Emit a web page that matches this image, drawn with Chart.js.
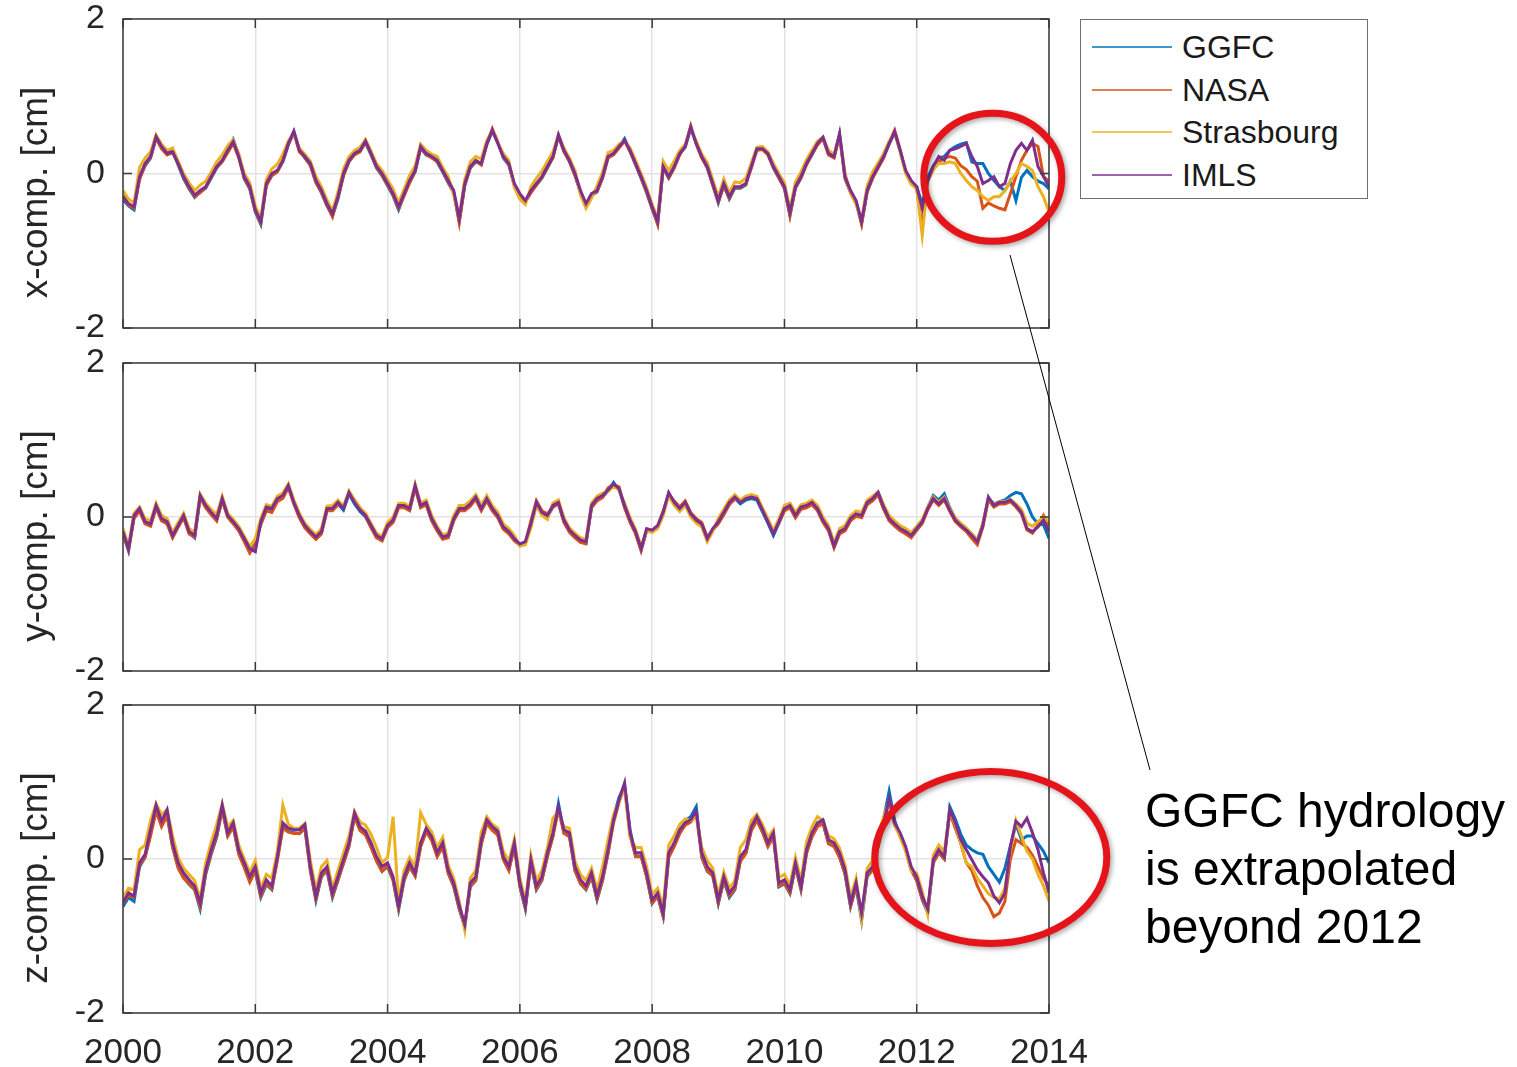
<!DOCTYPE html>
<html>
<head>
<meta charset="utf-8">
<title>Loading displacement components</title>
<script src="https://cdn.jsdelivr.net/npm/chart.js@4.4.1/dist/chart.umd.min.js"></script>
<style>
  html, body { margin: 0; padding: 0; background: #fff; }
  body { width: 1517px; height: 1067px; position: relative; overflow: hidden;
         font-family: "Liberation Sans", Arial, sans-serif; }
  canvas.panel { position: absolute; left: 0; }
  #overlay { position: absolute; left: 0; top: 0; pointer-events: none; }
  #legend { position: absolute; left: 1080px; top: 19px; width: 288px; height: 180px;
            box-sizing: border-box; border: 1.5px solid #707070; background: #fff; }
  .lg-row { position: absolute; left: 0; width: 100%; height: 42px; }
  .lg-line { position: absolute; left: 11px; width: 80px; height: 2px; top: 20px; }
  .lg-text { position: absolute; left: 101px; top: 0; line-height: 42px; font-size: 32px; color: #1a1a1a; white-space: nowrap; }
  #note { position: absolute; left: 1145px; top: 782px; font-size: 48px; line-height: 58px; color: #000; white-space: nowrap; }
</style>
</head>
<body>
<canvas id="p0" class="panel"></canvas>
<canvas id="p1" class="panel"></canvas>
<canvas id="p2" class="panel"></canvas>
<canvas id="overlay" width="1517" height="1067"></canvas>
<div id="legend"></div>
<div id="note">GGFC hydrology<br>is extrapolated<br>beyond 2012</div>
<script>
// ---- data: monthly samples, Jan 2000 .. Jan 2014 (169 values per series) ----
const startYear = 2000;
const yearTicks = [2000, 2002, 2004, 2006, 2008, 2010, 2012, 2014];
const valueTicks = [-2, 0, 2];
const seriesNames = ['GGFC', 'NASA', 'Strasbourg', 'IMLS'];
const seriesColors = ['#0072BD', '#D95319', '#EDB120', '#7E2F8E'];
const panelTitles = ['x-comp. [cm]', 'y-comp. [cm]', 'z-comp. [cm]'];

// x component [cm]
const xGGFC = [
  -0.34,-0.42,-0.47,-0.06,0.10,0.20,0.46,0.33,0.27,0.30,0.11,-0.07,
  -0.20,-0.31,-0.24,-0.19,-0.06,0.07,0.16,0.29,0.44,0.24,-0.07,-0.20,
  -0.50,-0.66,-0.15,-0.02,0.03,0.15,0.37,0.54,0.31,0.20,0.11,-0.11,
  -0.25,-0.42,-0.55,-0.33,-0.02,0.15,0.25,0.29,0.40,0.24,0.07,-0.03,
  -0.16,-0.29,-0.47,-0.28,-0.11,0.02,0.33,0.24,0.21,0.15,0.02,-0.12,
  -0.25,-0.62,-0.16,0.07,0.15,0.12,0.37,0.55,0.40,0.20,0.11,-0.15,
  -0.29,-0.37,-0.24,-0.15,-0.06,0.07,0.21,0.48,0.29,0.15,-0.02,-0.25,
  -0.42,-0.28,-0.24,-0.06,0.21,0.25,0.34,0.45,0.29,0.11,-0.06,-0.25,
  -0.46,-0.65,0.07,-0.06,0.08,0.25,0.34,0.58,0.40,0.21,0.07,-0.15,
  -0.38,-0.15,-0.33,-0.19,-0.19,-0.15,0.12,0.31,0.34,0.25,0.07,-0.06,
  -0.19,-0.54,-0.19,-0.06,0.12,0.24,0.38,0.46,0.25,0.21,0.50,-0.06,
  -0.25,-0.37,-0.65,-0.24,-0.06,0.08,0.21,0.38,0.53,0.29,0.02,-0.12,
  -0.17,-0.40,-0.05,0.10,0.20,0.22,0.30,0.35,0.38,0.40,0.15,0.13,
  0.13,0.00,-0.09,-0.17,-0.22,-0.10,-0.35,-0.05,0.04,-0.04,-0.10,-0.13,-0.20
];
const xNASA = [
  -0.28,-0.41,-0.45,-0.08,0.11,0.21,0.46,0.32,0.24,0.27,0.12,-0.05,
  -0.19,-0.30,-0.25,-0.18,-0.05,0.08,0.15,0.27,0.39,0.20,-0.06,-0.19,
  -0.49,-0.64,-0.16,-0.03,0.02,0.16,0.38,0.52,0.28,0.21,0.10,-0.12,
  -0.24,-0.41,-0.56,-0.31,-0.03,0.16,0.24,0.28,0.41,0.25,0.08,-0.02,
  -0.15,-0.28,-0.45,-0.29,-0.12,0.03,0.34,0.25,0.20,0.16,0.03,-0.11,
  -0.24,-0.64,-0.15,0.08,0.16,0.11,0.38,0.58,0.41,0.21,0.12,-0.15,
  -0.28,-0.37,-0.25,-0.15,-0.05,0.08,0.20,0.49,0.28,0.16,-0.03,-0.24,
  -0.41,-0.29,-0.23,-0.06,0.20,0.24,0.33,0.42,0.28,0.12,-0.06,-0.24,
  -0.45,-0.66,0.08,-0.06,0.07,0.24,0.36,0.62,0.38,0.20,0.08,-0.15,
  -0.37,-0.16,-0.32,-0.18,-0.18,-0.14,0.07,0.30,0.31,0.24,0.08,-0.06,
  -0.19,-0.55,-0.18,-0.06,0.11,0.25,0.37,0.45,0.24,0.20,0.49,-0.07,
  -0.24,-0.37,-0.66,-0.24,-0.06,0.07,0.20,0.40,0.56,0.31,0.02,-0.11,
  -0.20,-0.70,-0.10,0.05,0.15,0.20,0.22,0.20,0.10,0.05,-0.04,-0.10,
  -0.45,-0.38,-0.42,-0.45,-0.47,-0.26,-0.04,0.17,0.30,0.39,0.35,-0.04,-0.10
];
const xStras = [
  -0.22,-0.33,-0.38,0.08,0.20,0.28,0.50,0.38,0.30,0.33,0.16,0.00,
  -0.12,-0.22,-0.15,-0.10,0.02,0.15,0.24,0.36,0.44,0.25,0.00,-0.12,
  -0.42,-0.58,-0.08,0.06,0.12,0.25,0.42,0.52,0.33,0.25,0.16,-0.04,
  -0.17,-0.34,-0.48,-0.24,0.06,0.22,0.30,0.34,0.44,0.29,0.13,0.04,
  -0.08,-0.20,-0.38,-0.20,-0.02,0.10,0.38,0.30,0.25,0.22,0.08,-0.04,
  -0.28,-0.55,-0.08,0.15,0.22,0.19,0.43,0.56,0.40,0.26,0.17,-0.18,
  -0.33,-0.40,-0.17,-0.06,0.03,0.16,0.28,0.50,0.33,0.20,0.04,-0.28,
  -0.45,-0.32,-0.16,0.02,0.27,0.30,0.38,0.42,0.33,0.17,0.00,-0.18,
  -0.40,-0.58,0.16,0.04,0.16,0.30,0.38,0.58,0.42,0.25,0.14,-0.08,
  -0.30,-0.07,-0.25,-0.11,-0.12,-0.06,0.14,0.34,0.35,0.28,0.13,0.00,
  -0.12,-0.46,-0.11,0.02,0.18,0.30,0.42,0.47,0.30,0.25,0.50,0.00,
  -0.26,-0.40,-0.60,-0.16,0.02,0.14,0.26,0.42,0.52,0.28,0.00,-0.14,
  -0.20,-0.80,-0.10,0.05,0.13,0.13,0.15,0.13,0.00,-0.09,-0.17,-0.22,
  -0.30,-0.35,-0.30,-0.30,-0.22,-0.10,0.00,0.13,0.09,0.04,-0.17,-0.30,-0.50
];
const xIMLS = [
  -0.30,-0.39,-0.43,-0.04,0.13,0.22,0.48,0.35,0.26,0.28,0.13,-0.04,
  -0.17,-0.28,-0.22,-0.17,-0.04,0.09,0.17,0.30,0.41,0.22,-0.04,-0.17,
  -0.47,-0.62,-0.13,0.00,0.04,0.17,0.39,0.55,0.30,0.22,0.13,-0.09,
  -0.22,-0.39,-0.52,-0.30,0.00,0.17,0.26,0.30,0.42,0.26,0.09,0.00,
  -0.13,-0.26,-0.43,-0.26,-0.09,0.04,0.35,0.26,0.22,0.17,0.04,-0.09,
  -0.22,-0.58,-0.13,0.09,0.17,0.13,0.39,0.56,0.39,0.22,0.13,-0.13,
  -0.26,-0.35,-0.22,-0.13,-0.04,0.09,0.22,0.50,0.30,0.17,0.00,-0.22,
  -0.39,-0.26,-0.22,-0.04,0.22,0.26,0.35,0.43,0.30,0.13,-0.04,-0.22,
  -0.43,-0.62,0.09,-0.04,0.09,0.26,0.35,0.60,0.39,0.22,0.09,-0.13,
  -0.35,-0.13,-0.30,-0.17,-0.17,-0.13,0.09,0.32,0.32,0.26,0.09,-0.04,
  -0.17,-0.50,-0.17,-0.04,0.13,0.26,0.39,0.47,0.26,0.22,0.52,-0.04,
  -0.22,-0.35,-0.62,-0.22,-0.04,0.09,0.22,0.39,0.54,0.30,0.04,-0.09,
  -0.17,-0.45,-0.09,0.09,0.22,0.17,0.30,0.32,0.35,0.39,0.22,0.09,
  -0.13,-0.09,-0.04,-0.17,-0.13,0.13,0.30,0.39,0.30,0.43,0.09,-0.04,-0.17
];

// y component [cm]
const yGGFC = [
  -0.22,-0.44,0.00,0.09,-0.08,-0.11,0.13,-0.04,-0.08,-0.26,-0.13,0.00,
  -0.21,-0.27,0.26,0.13,0.04,-0.04,0.22,0.00,-0.08,-0.17,-0.31,-0.45,
  -0.35,-0.09,0.11,0.09,0.22,0.27,0.40,0.18,0.00,-0.13,-0.21,-0.28,
  -0.21,0.09,0.09,0.17,0.09,0.30,0.17,0.07,0.00,-0.13,-0.26,-0.30,
  -0.13,-0.06,0.13,0.13,0.09,0.39,0.13,0.17,-0.04,-0.17,-0.28,-0.26,
  -0.04,0.09,0.09,0.15,0.24,0.09,0.22,0.09,0.00,-0.15,-0.21,-0.30,
  -0.37,-0.34,-0.11,0.17,0.04,0.00,0.13,0.17,-0.06,-0.19,-0.26,-0.32,
  -0.34,0.13,0.22,0.26,0.34,0.45,0.35,0.13,-0.06,-0.21,-0.43,-0.17,
  -0.19,-0.13,0.04,0.30,0.17,0.09,0.17,0.02,-0.06,-0.11,-0.30,-0.17,
  -0.08,0.04,0.17,0.24,0.17,0.22,0.24,0.22,0.07,-0.08,-0.24,-0.08,
  0.09,0.13,0.00,0.11,0.13,0.17,0.09,-0.06,-0.17,-0.39,-0.21,-0.17,
  -0.04,0.02,0.00,0.17,0.22,0.30,0.11,-0.04,-0.11,-0.17,-0.21,-0.26,
  -0.17,-0.08,0.13,0.28,0.22,0.30,0.12,-0.02,-0.09,-0.15,-0.22,-0.30,
  -0.09,0.24,0.17,0.20,0.22,0.28,0.32,0.30,0.17,0.00,-0.09,-0.10,-0.28
];
const yNASA = [
  -0.21,-0.43,-0.02,0.08,-0.09,-0.12,0.12,-0.05,-0.09,-0.27,-0.13,-0.01,
  -0.22,-0.26,0.25,0.12,0.03,-0.05,0.21,0.00,-0.09,-0.18,-0.32,-0.47,
  -0.36,-0.10,0.08,0.06,0.20,0.24,0.38,0.17,-0.01,-0.14,-0.22,-0.29,
  -0.22,0.08,0.08,0.16,0.14,0.30,0.22,0.12,0.01,-0.14,-0.27,-0.31,
  -0.14,-0.07,0.12,0.12,0.08,0.38,0.12,0.16,-0.05,-0.18,-0.29,-0.27,
  -0.05,0.08,0.08,0.14,0.23,0.08,0.21,0.08,-0.01,-0.16,-0.22,-0.31,
  -0.36,-0.33,-0.05,0.21,0.08,0.04,0.13,0.17,-0.07,-0.20,-0.27,-0.33,
  -0.35,0.12,0.21,0.25,0.38,0.42,0.39,0.12,-0.07,-0.22,-0.44,-0.18,
  -0.18,-0.12,0.08,0.30,0.21,0.13,0.21,0.06,-0.02,-0.07,-0.26,-0.17,
  -0.09,0.03,0.16,0.23,0.21,0.26,0.28,0.26,0.11,-0.04,-0.20,-0.08,
  0.08,0.12,-0.01,0.10,0.12,0.16,0.08,-0.07,-0.18,-0.40,-0.22,-0.18,
  -0.05,0.01,-0.01,0.16,0.21,0.29,0.10,-0.05,-0.12,-0.18,-0.22,-0.27,
  -0.17,-0.08,0.09,0.22,0.15,0.22,0.07,-0.06,-0.13,-0.19,-0.28,-0.36,
  -0.13,0.22,0.13,0.17,0.17,0.20,0.13,0.04,-0.17,-0.21,-0.10,0.02,-0.12
];
const yStras = [
  -0.15,-0.37,0.05,0.13,-0.02,-0.05,0.18,0.02,-0.02,-0.20,-0.07,0.05,
  -0.15,-0.20,0.30,0.18,0.10,0.03,0.27,0.05,-0.03,-0.12,-0.25,-0.38,
  -0.28,-0.02,0.16,0.14,0.27,0.31,0.43,0.22,0.05,-0.08,-0.16,-0.23,
  -0.15,0.14,0.15,0.22,0.14,0.34,0.22,0.12,0.05,-0.08,-0.21,-0.25,
  -0.07,0.00,0.18,0.18,0.14,0.43,0.18,0.22,0.02,-0.12,-0.23,-0.21,
  0.02,0.15,0.15,0.21,0.29,0.16,0.28,0.15,0.06,-0.09,-0.15,-0.24,
  -0.38,-0.36,-0.14,0.15,0.02,-0.03,0.18,0.22,-0.01,-0.14,-0.21,-0.27,
  -0.29,0.18,0.27,0.31,0.33,0.40,0.35,0.18,-0.01,-0.16,-0.38,-0.18,
  -0.20,-0.15,0.02,0.28,0.15,0.07,0.15,0.00,-0.08,-0.13,-0.32,-0.19,
  -0.02,0.10,0.22,0.29,0.22,0.27,0.29,0.27,0.12,-0.02,-0.18,-0.02,
  0.15,0.18,0.06,0.16,0.18,0.22,0.15,0.00,-0.11,-0.33,-0.15,-0.11,
  0.02,0.08,0.06,0.22,0.27,0.33,0.16,0.02,-0.05,-0.11,-0.15,-0.20,
  -0.12,-0.03,0.13,0.26,0.19,0.26,0.11,-0.01,-0.08,-0.14,-0.22,-0.30,
  -0.08,0.24,0.16,0.20,0.20,0.23,0.17,0.10,-0.08,-0.12,-0.06,0.00,-0.06
];
const yIMLS = [
  -0.19,-0.41,0.02,0.11,-0.06,-0.09,0.15,-0.02,-0.06,-0.24,-0.11,0.02,
  -0.19,-0.24,0.28,0.15,0.06,-0.02,0.24,0.02,-0.06,-0.15,-0.28,-0.41,
  -0.45,-0.06,0.13,0.11,0.24,0.28,0.41,0.19,0.02,-0.11,-0.19,-0.26,
  -0.19,0.11,0.11,0.19,0.11,0.32,0.19,0.09,0.02,-0.11,-0.24,-0.28,
  -0.11,-0.04,0.15,0.15,0.11,0.41,0.15,0.19,-0.02,-0.15,-0.26,-0.24,
  -0.02,0.11,0.11,0.17,0.26,0.11,0.24,0.11,0.02,-0.13,-0.19,-0.28,
  -0.35,-0.32,-0.09,0.19,0.06,0.02,0.15,0.19,-0.04,-0.17,-0.24,-0.30,
  -0.32,0.15,0.24,0.28,0.35,0.43,0.37,0.15,-0.04,-0.19,-0.41,-0.15,
  -0.17,-0.11,0.06,0.32,0.19,0.11,0.19,0.04,-0.04,-0.09,-0.28,-0.15,
  -0.06,0.06,0.19,0.26,0.19,0.24,0.26,0.24,0.09,-0.06,-0.22,-0.06,
  0.11,0.15,0.02,0.13,0.15,0.19,0.11,-0.04,-0.15,-0.37,-0.19,-0.15,
  -0.02,0.04,0.02,0.19,0.24,0.32,0.13,-0.02,-0.09,-0.15,-0.19,-0.24,
  -0.15,-0.06,0.11,0.24,0.17,0.24,0.09,-0.04,-0.11,-0.17,-0.24,-0.32,
  -0.11,0.26,0.15,0.19,0.19,0.22,0.15,0.06,-0.15,-0.19,-0.13,-0.04,-0.19
];

// z component [cm]
const zGGFC = [
  -0.62,-0.50,-0.55,-0.10,0.02,0.33,0.66,0.44,0.58,0.16,-0.10,-0.24,
  -0.33,-0.40,-0.65,-0.20,0.06,0.28,0.65,0.30,0.42,0.07,-0.10,-0.29,
  -0.16,-0.50,-0.33,-0.40,0.00,0.42,0.36,0.34,0.33,0.40,-0.15,-0.54,
  -0.23,-0.15,-0.50,-0.28,-0.05,0.17,0.56,0.38,0.32,0.16,-0.02,-0.16,
  -0.10,-0.28,-0.66,-0.28,-0.10,-0.22,0.17,0.36,0.25,0.04,0.17,-0.18,
  -0.36,-0.65,-0.88,-0.36,-0.28,0.20,0.47,0.38,0.32,0.00,-0.14,0.17,
  -0.36,-0.65,-0.05,-0.40,-0.28,0.04,0.30,0.72,0.34,0.30,-0.15,-0.32,
  -0.40,-0.23,-0.53,-0.28,0.08,0.55,0.80,0.95,0.38,0.04,0.04,-0.23,
  -0.58,-0.48,-0.75,0.03,0.17,0.34,0.50,0.55,0.68,0.02,-0.16,-0.22,
  -0.58,-0.28,-0.50,-0.40,-0.02,0.08,0.38,0.51,0.36,0.17,0.30,-0.36,
  -0.32,-0.45,-0.10,-0.40,0.08,0.30,0.43,0.47,0.20,0.17,0.03,-0.20,
  -0.62,-0.36,-0.80,-0.23,-0.14,0.17,0.52,0.88,0.50,0.30,0.12,-0.14,
  -0.28,-0.53,-0.70,-0.05,0.08,0.00,0.68,0.52,0.32,0.18,0.12,0.08,
  0.06,-0.10,-0.20,-0.30,-0.12,0.17,0.45,0.25,0.30,0.30,0.20,0.10,-0.05
];
const zNASA = [
  -0.58,-0.47,-0.50,-0.08,0.02,0.30,0.62,0.42,0.56,0.15,-0.12,-0.25,
  -0.32,-0.40,-0.62,-0.18,0.08,0.30,0.64,0.30,0.42,0.06,-0.11,-0.30,
  -0.15,-0.48,-0.31,-0.39,-0.02,0.40,0.35,0.33,0.33,0.40,-0.16,-0.52,
  -0.22,-0.14,-0.48,-0.27,-0.06,0.16,0.55,0.37,0.31,0.15,-0.03,-0.16,
  -0.09,-0.27,-0.64,-0.27,-0.10,-0.22,0.16,0.35,0.24,0.03,0.16,-0.19,
  -0.35,-0.64,-0.87,-0.35,-0.27,0.19,0.46,0.37,0.31,-0.01,-0.15,0.16,
  -0.35,-0.63,-0.06,-0.39,-0.27,0.03,0.29,0.64,0.33,0.29,-0.15,-0.32,
  -0.39,-0.22,-0.52,-0.27,0.07,0.47,0.74,0.94,0.30,0.03,0.03,-0.23,
  -0.57,-0.48,-0.74,0.02,0.16,0.33,0.44,0.48,0.58,0.03,-0.15,-0.22,
  -0.57,-0.27,-0.48,-0.39,-0.03,0.07,0.37,0.50,0.35,0.16,0.29,-0.35,
  -0.31,-0.44,-0.09,-0.39,0.07,0.29,0.42,0.46,0.20,0.16,0.02,-0.19,
  -0.61,-0.35,-0.75,-0.22,-0.14,0.16,0.44,0.76,0.44,0.30,0.12,-0.14,
  -0.28,-0.52,-0.68,-0.05,0.08,0.00,0.60,0.40,0.20,-0.05,-0.15,-0.35,
  -0.50,-0.60,-0.75,-0.70,-0.55,0.00,0.25,0.20,0.15,0.05,-0.10,-0.25,-0.35
];
const zStras = [
  -0.50,-0.38,-0.40,0.12,0.18,0.50,0.72,0.58,0.64,0.30,0.02,-0.12,
  -0.20,-0.28,-0.52,-0.05,0.22,0.45,0.72,0.42,0.50,0.18,0.00,-0.17,
  -0.02,-0.38,-0.20,-0.25,0.10,0.70,0.45,0.40,0.40,0.46,-0.02,-0.40,
  -0.10,-0.02,-0.38,-0.15,0.08,0.30,0.62,0.48,0.44,0.32,0.15,-0.05,
  0.02,0.55,-0.56,-0.15,0.02,-0.10,0.60,0.45,0.35,0.15,0.28,-0.08,
  -0.25,-0.55,-0.92,-0.25,-0.15,0.35,0.55,0.45,0.40,0.10,-0.03,0.26,
  -0.24,-0.55,0.05,-0.28,-0.15,0.15,0.53,0.62,0.42,0.40,-0.03,-0.20,
  -0.28,-0.12,-0.40,-0.10,0.25,0.58,0.75,0.92,0.28,0.15,0.15,-0.10,
  -0.46,-0.38,-0.62,0.18,0.30,0.45,0.52,0.50,0.58,0.15,-0.02,-0.12,
  -0.46,-0.17,-0.38,-0.28,0.15,0.25,0.50,0.58,0.45,0.28,0.38,-0.24,
  -0.20,-0.34,0.02,-0.28,0.22,0.42,0.55,0.50,0.30,0.26,0.14,-0.08,
  -0.50,-0.25,-0.78,-0.12,-0.02,0.30,0.55,0.76,0.45,0.28,0.10,-0.16,
  -0.18,-0.42,-0.72,0.05,0.18,0.10,0.62,0.45,0.20,-0.05,-0.10,-0.25,
  -0.35,-0.45,-0.50,-0.52,-0.38,0.10,0.50,0.30,0.10,0.00,-0.20,-0.35,-0.55
];
const zIMLS = [
  -0.57,-0.44,-0.48,-0.05,0.06,0.38,0.70,0.49,0.64,0.21,-0.05,-0.18,
  -0.27,-0.35,-0.57,-0.14,0.12,0.34,0.70,0.34,0.47,0.12,-0.05,-0.23,
  -0.10,-0.44,-0.27,-0.35,0.03,0.47,0.40,0.38,0.38,0.45,-0.10,-0.48,
  -0.18,-0.10,-0.44,-0.23,-0.01,0.21,0.60,0.42,0.36,0.21,0.03,-0.10,
  -0.05,-0.23,-0.61,-0.23,-0.05,-0.18,0.21,0.40,0.29,0.08,0.21,-0.14,
  -0.31,-0.60,-0.85,-0.31,-0.23,0.25,0.51,0.42,0.36,0.03,-0.10,0.21,
  -0.31,-0.60,-0.01,-0.35,-0.23,0.08,0.34,0.68,0.38,0.34,-0.10,-0.27,
  -0.35,-0.18,-0.48,-0.23,0.12,0.51,0.77,0.99,0.34,0.08,0.08,-0.18,
  -0.53,-0.44,-0.70,0.08,0.21,0.38,0.47,0.51,0.62,0.08,-0.10,-0.18,
  -0.53,-0.23,-0.44,-0.35,0.03,0.12,0.42,0.55,0.40,0.21,0.34,-0.31,
  -0.27,-0.40,-0.05,-0.35,0.12,0.34,0.47,0.51,0.25,0.21,0.08,-0.14,
  -0.57,-0.31,-0.70,-0.18,-0.10,0.21,0.47,0.78,0.47,0.34,0.16,-0.10,
  -0.23,-0.48,-0.65,-0.01,0.12,0.03,0.64,0.47,0.25,0.12,-0.01,-0.14,
  -0.23,-0.31,-0.48,-0.57,-0.44,0.16,0.49,0.42,0.53,0.34,0.12,-0.18,-0.44
];

const panelSeries = [
  [xGGFC, xNASA, xStras, xIMLS],
  [yGGFC, yNASA, yStras, yIMLS],
  [zGGFC, zNASA, zStras, zIMLS]
];

// ---- layout ----
const PAGE_W = 1517;
const PLOT_LEFT = 123, PLOT_RIGHT = 1049;
const panelBoxes = [
  { top: 0,   height: 346, padTop: 19, plotH: 309, labels: false },
  { top: 340, height: 350, padTop: 23, plotH: 308, labels: false },
  { top: 680, height: 387, padTop: 25, plotH: 308, labels: true }
];
const FONT = '"Liberation Sans", Arial, sans-serif';
Chart.defaults.font.family = FONT;

function toPoints(arr) {
  return arr.map((v, i) => ({ x: startYear + i / 12, y: v }));
}

// box frame with inward ticks plus the rotated y-axis title
const framePlugin = {
  id: 'panelFrame',
  afterDatasetsDraw(chart, args, opts) {
    const { ctx, chartArea: a, scales } = chart;
    ctx.save();
    ctx.strokeStyle = '#3a3a3a';
    ctx.lineWidth = 1.5;
    ctx.strokeRect(a.left, a.top, a.right - a.left, a.bottom - a.top);
    const t = 9;
    ctx.beginPath();
    yearTicks.forEach(v => {
      const px = scales.x.getPixelForValue(v);
      ctx.moveTo(px, a.bottom); ctx.lineTo(px, a.bottom - t);
      ctx.moveTo(px, a.top); ctx.lineTo(px, a.top + t);
    });
    valueTicks.forEach(v => {
      const py = scales.y.getPixelForValue(v);
      ctx.moveTo(a.left, py); ctx.lineTo(a.left + t, py);
      ctx.moveTo(a.right, py); ctx.lineTo(a.right - t, py);
    });
    ctx.stroke();
    ctx.restore();
  },
  afterDraw(chart, args, opts) {
    const { ctx, chartArea: a } = chart;
    ctx.save();
    ctx.translate(37, (a.top + a.bottom) / 2 + 19);
    ctx.rotate(-Math.PI / 2);
    ctx.fillStyle = '#262626';
    ctx.font = '37px ' + FONT;
    ctx.textAlign = 'center';
    ctx.textBaseline = 'middle';
    ctx.fillText(opts.title, 0, 0);
    ctx.restore();
  }
};

const charts = panelBoxes.map((box, p) => {
  const cv = document.getElementById('p' + p);
  cv.width = PAGE_W; cv.height = box.height;
  cv.style.top = box.top + 'px';
  cv.style.width = PAGE_W + 'px'; cv.style.height = box.height + 'px';
  const xAxisH = box.height - box.padTop - box.plotH;
  return new Chart(cv, {
    type: 'line',
    data: {
      datasets: seriesNames.map((name, k) => ({
        label: name,
        data: toPoints(panelSeries[p][k]),
        borderColor: seriesColors[k],
        backgroundColor: seriesColors[k],
        borderWidth: 3,
        pointRadius: 0,
        tension: 0,
        fill: false,
        order: seriesNames.length - 1 - k
      }))
    },
    options: {
      responsive: false,
      animation: false,
      devicePixelRatio: 1,
      layout: { padding: { left: 0, right: PAGE_W - PLOT_RIGHT, top: box.padTop, bottom: 0 } },
      plugins: {
        legend: { display: false },
        tooltip: { enabled: false },
        panelFrame: { title: panelTitles[p] }
      },
      scales: {
        x: {
          type: 'linear', min: 2000, max: 2014, position: 'bottom',
          afterBuildTicks: s => { s.ticks = yearTicks.map(v => ({ value: v })); },
          afterFit: s => { s.height = xAxisH; s.paddingLeft = 0; s.paddingRight = 0; },
          grid: { color: '#e3e3e3', lineWidth: 1.5, drawTicks: false },
          border: { display: false },
          ticks: {
            display: box.labels, padding: 19, color: '#262626',
            font: { size: 35, family: FONT }, maxRotation: 0, autoSkip: false,
            callback: v => String(v)
          }
        },
        y: {
          type: 'linear', min: -2, max: 2,
          afterBuildTicks: s => { s.ticks = valueTicks.map(v => ({ value: v })); },
          afterFit: s => { s.width = PLOT_LEFT; s.paddingTop = 0; s.paddingBottom = 0; },
          grid: { color: '#e3e3e3', lineWidth: 1.5, drawTicks: false },
          border: { display: false },
          ticks: { padding: 18, color: '#262626', font: { size: 34, family: FONT }, callback: v => String(v) }
        }
      }
    },
    plugins: [framePlugin]
  });
});

// ---- legend ----
const legend = document.getElementById('legend');
seriesNames.forEach((name, k) => {
  const row = document.createElement('div');
  row.className = 'lg-row';
  row.style.top = (6 + k * 42.7) + 'px';
  const ln = document.createElement('div');
  ln.className = 'lg-line';
  ln.style.background = seriesColors[k];
  ln.style.opacity = '0.75';
  const tx = document.createElement('div');
  tx.className = 'lg-text';
  tx.textContent = name;
  row.appendChild(ln); row.appendChild(tx);
  legend.appendChild(row);
});

// ---- highlight rings and pointer line ----
const ov = document.getElementById('overlay').getContext('2d');
function pagePoint(p, year, value) {
  const c = charts[p];
  return { x: c.scales.x.getPixelForValue(year),
           y: panelBoxes[p].top + c.scales.y.getPixelForValue(value) };
}
function ring(center, rx, ry) {
  ov.save();
  ov.shadowColor = 'rgba(0,0,0,0.35)';
  ov.shadowBlur = 5;
  ov.shadowOffsetX = 2;
  ov.shadowOffsetY = 2;
  ov.strokeStyle = '#e5141a';
  ov.lineWidth = 7;
  ov.beginPath();
  ov.ellipse(center.x, center.y, rx, ry, 0, 0, Math.PI * 2);
  ov.stroke();
  ov.restore();
}
ov.strokeStyle = '#000';
ov.lineWidth = 1;
ov.beginPath();
ov.moveTo(1010, 255);
ov.lineTo(1150, 770);
ov.stroke();
ring(pagePoint(0, 2013.15, -0.05), 69, 64);
ring(pagePoint(2, 2013.12, 0.02), 116, 86);
</script>
</body>
</html>
